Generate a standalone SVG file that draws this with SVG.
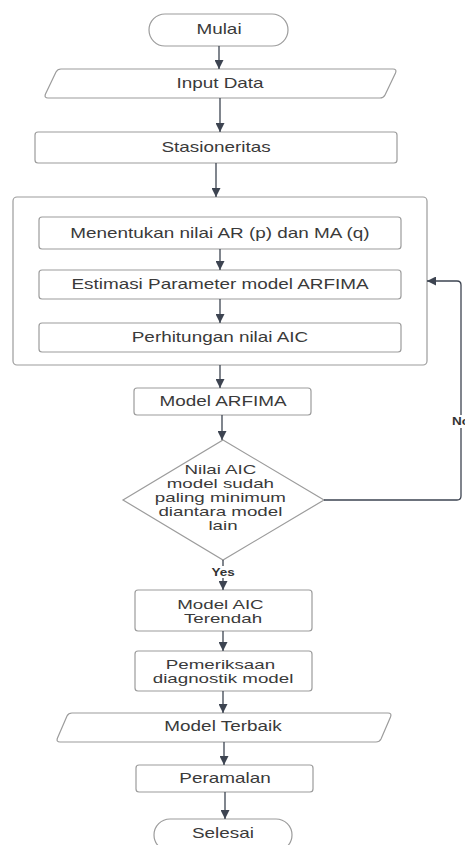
<svg xmlns="http://www.w3.org/2000/svg" width="465" height="845" viewBox="0 0 465 845">
<style>
  .shape{fill:#ffffff;stroke:#9c9c9c;stroke-width:1.2}
  .lbl{font-family:"Liberation Sans",Arial,sans-serif;font-size:14px;fill:#3a3a3a;text-anchor:middle}
  .ml{font-size:12.5px}
  .edge{fill:none;stroke:#3d4451;stroke-width:1.3}
  .elbl{font-family:"Liberation Sans",Arial,sans-serif;font-size:10px;font-weight:bold;fill:#333333;text-anchor:middle}
</style>
<defs>
  <marker id="arr" viewBox="0 0 10 10" refX="10" refY="5" markerWidth="9" markerHeight="9" markerUnits="userSpaceOnUse" orient="auto">
    <path d="M0,0 L10,5 L0,10 z" fill="#3d4451"/>
  </marker>
</defs>
<rect width="465" height="845" fill="#ffffff"/>

<g id="container">
  <rect class="shape" x="13" y="197" width="414" height="168" rx="4"/>
</g>
<g id="mulai">
  <rect class="shape" x="149" y="14" width="139" height="32" rx="16"/>
  <text class="lbl" transform="translate(219,34) scale(1.35,1)">Mulai</text>
</g>
<g id="input-data">
  <path class="shape" d="M61,69 H393 Q397,69 395.5,73 L385,95 Q383.5,98 380,98 H48 Q44,98 45.5,94 L56,72 Q57.5,69 61,69 Z"/>
  <text class="lbl" transform="translate(220,88) scale(1.35,1)">Input Data</text>
</g>
<g id="stasioneritas">
  <rect class="shape" x="35" y="132" width="362" height="31" rx="3"/>
  <text class="lbl" transform="translate(216,152) scale(1.35,1)">Stasioneritas</text>
</g>
<g id="menentukan">
  <rect class="shape" x="39" y="217" width="362" height="32" rx="3"/>
  <text class="lbl" transform="translate(220,238) scale(1.35,1)">Menentukan nilai AR (p) dan MA (q)</text>
</g>
<g id="estimasi">
  <rect class="shape" x="39" y="270" width="362" height="29" rx="3"/>
  <text class="lbl" transform="translate(220,289) scale(1.35,1)">Estimasi Parameter model ARFIMA</text>
</g>
<g id="perhitungan">
  <rect class="shape" x="39" y="323" width="362" height="29" rx="3"/>
  <text class="lbl" transform="translate(220,342) scale(1.35,1)">Perhitungan nilai AIC</text>
</g>
<g id="model-arfima">
  <rect class="shape" x="134" y="388" width="177" height="27" rx="3"/>
  <text class="lbl" transform="translate(223,406) scale(1.35,1)">Model ARFIMA</text>
</g>
<g id="decision">
  <path class="shape" d="M223,440 L324,500 L223,560 L123,500 Z"/>
  <text class="lbl ml" transform="translate(223,474) scale(1.5,1)">
    <tspan x="0" y="0">Nilai AIC</tspan>
    <tspan x="0" y="14">model sudah</tspan>
    <tspan x="0" y="28">paling minimum</tspan>
    <tspan x="0" y="42">diantara model</tspan>
    <tspan x="0" y="56">lain</tspan>
  </text>
</g>
<g id="model-aic-terendah">
  <rect class="shape" x="135" y="590" width="177" height="41" rx="3"/>
  <text class="lbl ml" transform="translate(223,609) scale(1.5,1)">
    <tspan x="0" y="0">Model AIC</tspan>
    <tspan x="0" y="14">Terendah</tspan>
  </text>
</g>
<g id="pemeriksaan">
  <rect class="shape" x="135" y="651" width="177" height="40" rx="3"/>
  <text class="lbl ml" transform="translate(223,669) scale(1.5,1)">
    <tspan x="0" y="0">Pemeriksaan</tspan>
    <tspan x="0" y="14">diagnostik model</tspan>
  </text>
</g>
<g id="model-terbaik">
  <path class="shape" d="M72,713 H388 Q392,713 390.5,717 L381,739 Q379.5,742 376,742 H60 Q56,742 57.5,738 L67,716 Q68.5,713 72,713 Z"/>
  <text class="lbl" transform="translate(223,731) scale(1.35,1)">Model Terbaik</text>
</g>
<g id="peramalan">
  <rect class="shape" x="136" y="765" width="177" height="27" rx="3"/>
  <text class="lbl" transform="translate(225,783) scale(1.35,1)">Peramalan</text>
</g>
<g id="selesai">
  <rect class="shape" x="154" y="819" width="138" height="32" rx="16"/>
  <text class="lbl" transform="translate(223,838) scale(1.35,1)">Selesai</text>
</g>

<g id="connectors">
  <path class="edge" marker-end="url(#arr)" d="M219,46 V69"/>
  <path class="edge" marker-end="url(#arr)" d="M220,98 V132"/>
  <path class="edge" marker-end="url(#arr)" d="M216,163 V197"/>
  <path class="edge" marker-end="url(#arr)" d="M220,249 V270"/>
  <path class="edge" marker-end="url(#arr)" d="M220,299 V323"/>
  <path class="edge" marker-end="url(#arr)" d="M220,365 V388"/>
  <path class="edge" marker-end="url(#arr)" d="M222,415 V440"/>
  <path class="edge" marker-end="url(#arr)" d="M223,560 V590"/>
  <path class="edge" marker-end="url(#arr)" d="M324,500 H457 Q461,500 461,496 V285 Q461,281 457,281 H427"/>
  <path class="edge" marker-end="url(#arr)" d="M223,631 V651"/>
  <path class="edge" marker-end="url(#arr)" d="M223,691 V713"/>
  <path class="edge" marker-end="url(#arr)" d="M224,742 V765"/>
  <path class="edge" marker-end="url(#arr)" d="M225,792 V819"/>
  <rect x="208" y="566" width="30" height="12" fill="#ffffff"/>
  <text class="elbl" transform="translate(223,576) scale(1.35,1)">Yes</text>
  <rect x="450" y="415" width="15" height="13" fill="#ffffff"/>
  <text class="elbl" transform="translate(461,425) scale(1.35,1)">No</text>
</g>
</svg>
